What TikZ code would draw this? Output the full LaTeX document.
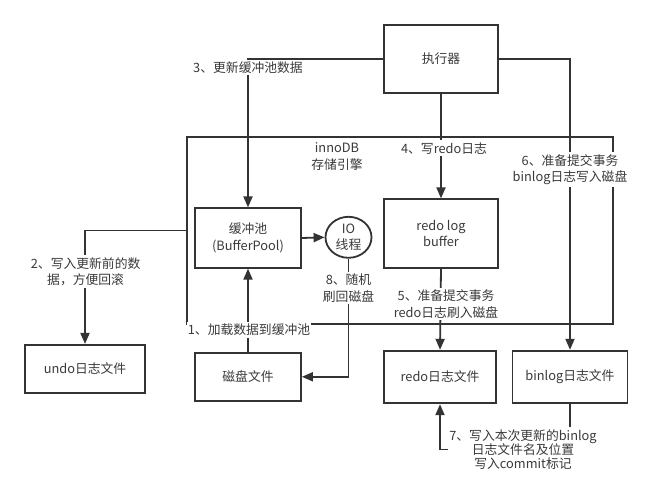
\documentclass[tikz,border=0pt]{standalone}
\usepackage{fontspec}
\setmainfont{Noto Sans CJK SC}
\usetikzlibrary{arrows.meta,shapes.geometric}
\definecolor{ln}{HTML}{333333}
\definecolor{tx}{HTML}{3A3A3A}
\begin{document}
\begin{tikzpicture}[x=1pt,y=-1pt,
  every node/.style={font=\fontsize{12.8}{16.5}\selectfont, text=tx},
  box/.style={draw=ln, line width=1.8pt, fill=white, align=center, inner sep=0pt},
  conn/.style={draw=ln, line width=1.8pt},
  arr/.style={conn, -{Triangle[length=11pt,width=9pt]}},
  lbl/.style={fill=white, align=center, inner xsep=1pt, inner ysep=2pt},
]
\useasboundingbox (0,0) rectangle (651,489);
\fill[white] (0,0) rectangle (651,489);

% engine frame
\node[draw=ln, line width=1.8pt, minimum width=426pt, minimum height=187.6pt, inner sep=0pt] (innodb) at (399.6,230.5) {};

% boxes
\node[box, minimum width=114pt, minimum height=68pt] (exec) at (441,58.7) {执行器};
\node[box, minimum width=106pt, minimum height=59.4pt] (bp) at (248,238) {缓冲池\\(BufferPool)};
\node[box, ellipse, minimum width=46pt, minimum height=41pt] (io) at (348.5,237.3) {IO\\线程};
\node[box, minimum width=114pt, minimum height=68.4pt] (rlb) at (441,233.5) {redo log\\buffer};
\node[box, minimum width=120pt, minimum height=48.3pt] (undo) at (85,369) {undo日志文件};
\node[box, minimum width=106pt, minimum height=48.3pt] (disk) at (248,376.8) {磁盘文件};
\node[box, minimum width=112pt, minimum height=52.6pt] (redof) at (440,377) {redo日志文件};
\node[box, minimum width=115pt, minimum height=52.6pt] (binlog) at (570,377) {binlog日志文件};

% connectors
\draw[arr] (exec.west) -| (bp.north);
\draw[arr] (exec.east) -| (binlog.north);
\draw[arr] (exec.south) -- (rlb.north);
\draw[arr] (rlb.south) -- (redof.north);
\draw[arr] (bp.east) -- (io.west);
\draw[arr] (io.south) |- (disk.east);
\draw[arr] (disk.north) -- (bp.south);
\draw[arr] (innodb.west) -| (undo.north);
\coordinate (c7) at (570,449.5);
\draw[arr] (binlog.south) -- (c7) -| (redof.south);

% labels
\node[lbl] (l3) at (248,67.5) {3、更新缓冲池数据};
\node[lbl] (l4) at (444,148.3) {4、写redo日志};
\node[lbl] (l6) at (570,169.5) {6、准备提交事务\\binlog日志写入磁盘};
\node[lbl, fill=none] (linno) at (337,156.7) {innoDB\\存储引擎};
\node[lbl] (l2) at (85.6,271.7) {2、写入更新前的数\\据，方便回滚};
\node[lbl] (l8) at (348.5,288) {8、随机\\刷回磁盘};
\node[lbl] (l5) at (446,304) {5、准备提交事务\\redo日志刷入磁盘};
\node[lbl] (l1) at (249,330) {1、加载数据到缓冲池};
\node[lbl, font=\fontsize{12.8}{14.2}\selectfont] (l7) at (523,449.5) {7、写入本次更新的binlog\\日志文件名及位置\\写入commit标记};
\end{tikzpicture}
\end{document}
